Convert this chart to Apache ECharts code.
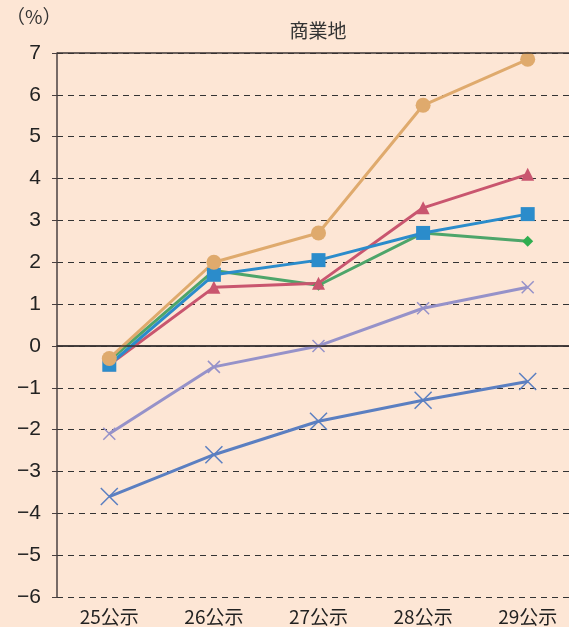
<!DOCTYPE html>
<html>
<head>
<meta charset="utf-8">
<script src="https://cdn.jsdelivr.net/npm/echarts@6/dist/echarts.min.js"></script>
<style>
  html, body { margin: 0; padding: 0; background: #fde6d5; }
  #chart { width: 569px; height: 627px; }
</style>
</head>
<body>
<div id="chart"></div>
<script>
const categories = ['25公示', '26公示', '27公示', '28公示', '29公示'];
const orangeVals = [-0.3, 2.0, 2.7, 5.75, 6.85];
const redVals = [-0.45, 1.4, 1.5, 3.3, 4.1];
const blueVals = [-0.45, 1.7, 2.05, 2.7, 3.15];
const greenVals = [-0.35, 1.8, 1.45, 2.7, 2.5];
const lavenderVals = [-2.1, -0.5, 0.0, 0.9, 1.4];
const navyVals = [-3.6, -2.6, -1.8, -1.3, -0.85];
const solidLines = [0, 7];

const cross = 'path://M0,0L10,10M10,0L0,10';
const font = '"Noto Sans CJK JP", "Noto Sans", sans-serif';

const chart = echarts.init(document.getElementById('chart'));

function lineSeries(name, data, color, symbol, size, isCross) {
  return {
    name: name,
    type: 'line',
    data: data,
    symbol: symbol,
    symbolSize: size,
    showAllSymbol: true,
    lineStyle: { color: color, width: 3 },
    itemStyle: isCross
      ? { color: 'rgba(0,0,0,0)', borderColor: color, borderWidth: 1.5 }
      : { color: color, borderWidth: 0 },
    z: 3
  };
}

const option = {
  backgroundColor: '#fde6d5',
  animation: false,
  title: {
    text: '商業地',
    left: 313,
    top: 16,
    textAlign: 'center',
    textStyle: { fontFamily: font, fontSize: 19, fontWeight: 'normal', color: '#333' }
  },
  graphic: [{
    type: 'text',
    left: 6,
    top: 7,
    style: { text: '（%）', font: '19px ' + font, fill: '#333' }
  }],
  grid: { left: 57, width: 523, top: 53, bottom: 30, outerBoundsMode: 'none', containLabel: false },
  xAxis: {
    type: 'category',
    data: categories,
    boundaryGap: true,
    axisLine: { lineStyle: { color: '#3a3333', width: 1.5 } },
    axisTick: { show: false },
    axisLabel: { fontFamily: font, fontSize: 19, color: '#222', margin: 10 }
  },
  yAxis: {
    type: 'value',
    min: -6,
    max: 7,
    interval: 1,
    axisLine: { show: true, lineStyle: { color: '#4a4040', width: 1.5 } },
    axisTick: { show: true, length: 5, lineStyle: { color: '#4a4040' } },
    axisLabel: {
      fontFamily: 'Liberation Sans, Arial, sans-serif',
      fontSize: 21,
      color: '#222',
      margin: 16,
      formatter: v => (v < 0 ? '\u2212' + Math.abs(v) : String(v))
    },
    splitLine: { show: true, lineStyle: { color: '#333', type: [6, 5], width: 1.2 } }
  },
  series: [
    {
      type: 'line',
      data: [],
      markLine: {
        symbol: 'none',
        silent: true,
        label: { show: false },
        lineStyle: { color: '#3a3333', type: 'solid', width: 1.5 },
        data: solidLines.map(v => ({ yAxis: v }))
      },
      z: 1
    },
    lineSeries('lavender', lavenderVals, '#9692c9', cross, 12, true),
    lineSeries('navy', navyVals, '#5b7fc1', cross, 17, true),
    lineSeries('green', greenVals, '#4ea56a', 'diamond', 11, false),
    lineSeries('red', redVals, '#c9566f', 'triangle', 13, false),
    lineSeries('blue', blueVals, '#2b8ccb', 'rect', 14, false),
    lineSeries('orange', orangeVals, '#dfaa6d', 'circle', 15, false)
  ]
};
option.series[3].itemStyle.color = '#2fae50';

chart.setOption(option);
</script>
</body>
</html>
